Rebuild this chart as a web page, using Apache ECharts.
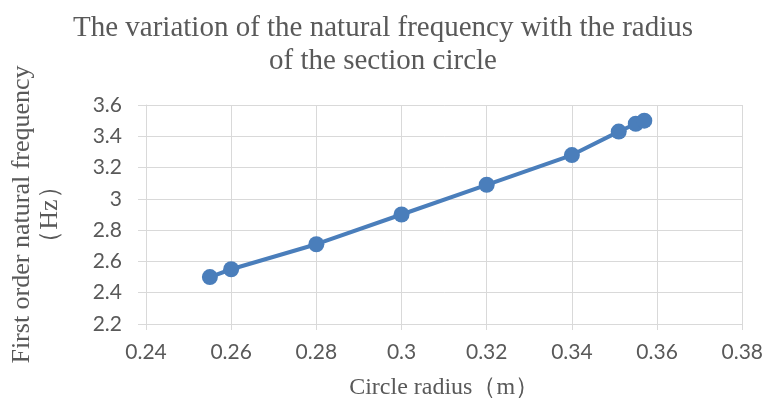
<!DOCTYPE html>
<html><head><meta charset="utf-8">
<script src="https://cdn.jsdelivr.net/npm/echarts@6/dist/echarts.min.js"></script>
<style>html,body{margin:0;padding:0;background:#fff}#c{width:766px;height:405px}</style>
</head><body><div id="c"></div>
<script>
const radius = [0.255, 0.26, 0.28, 0.30, 0.32, 0.34, 0.351, 0.355, 0.357];
const frequency = [2.50, 2.55, 2.71, 2.90, 3.09, 3.28, 3.43, 3.48, 3.50];
const titleText = 'The variation of the natural frequency with the radius\nof the section circle';
const xName = 'Circle radius（m）';
const yName = 'First order natural frequency\n（Hz）';

const chart = echarts.init(document.getElementById('c'));
const serif = '"Liberation Serif","DejaVu Serif",serif';
const sans = 'Lato,"Liberation Sans",sans-serif';
chart.setOption({
  animation: false,
  title: {
    text: titleText, left: 'center', top: 7,
    textStyle: {fontFamily: serif, fontSize: 29, fontWeight: 'normal', color: '#595959', lineHeight: 33}
  },
  grid: {left: 143, right: 23, top: 105, bottom: 80},
  xAxis: {
    type: 'value', min: 0.24, max: 0.38, interval: 0.02,
    name: xName, nameLocation: 'middle', nameGap: 52,
    nameTextStyle: {fontFamily: serif, fontSize: 24, color: '#595959'},
    axisLine: {show: true, lineStyle: {color: '#d9d9d9'}},
    axisTick: {show: true, length: 6, lineStyle: {color: '#d9d9d9'}},
    splitLine: {show: true, lineStyle: {color: '#d9d9d9', width: 1}},
    axisLabel: {fontFamily: sans, fontSize: 21, color: '#595959', margin: 18,
      formatter: v => String(+v.toFixed(2))}
  },
  yAxis: {
    type: 'value', min: 2.2, max: 3.6, interval: 0.2,
    name: yName, nameLocation: 'middle', nameGap: 82, nameRotate: 90,
    nameTextStyle: {fontFamily: serif, fontSize: 26, color: '#595959', lineHeight: 28},
    axisLine: {show: true, lineStyle: {color: '#d9d9d9'}},
    axisTick: {show: true, length: 8, lineStyle: {color: '#d9d9d9'}},
    splitLine: {show: true, lineStyle: {color: '#d9d9d9', width: 1}},
    axisLabel: {fontFamily: sans, fontSize: 21, color: '#595959', margin: 24,
      formatter: v => String(+v.toFixed(1))}
  },
  series: [{
    type: 'line', data: radius.map((r, i) => [r, frequency[i]]),
    symbol: 'circle', symbolSize: 16,
    lineStyle: {color: '#4a7ebb', width: 4},
    itemStyle: {color: '#4a7ebb'}
  }]
});
</script></body></html>
